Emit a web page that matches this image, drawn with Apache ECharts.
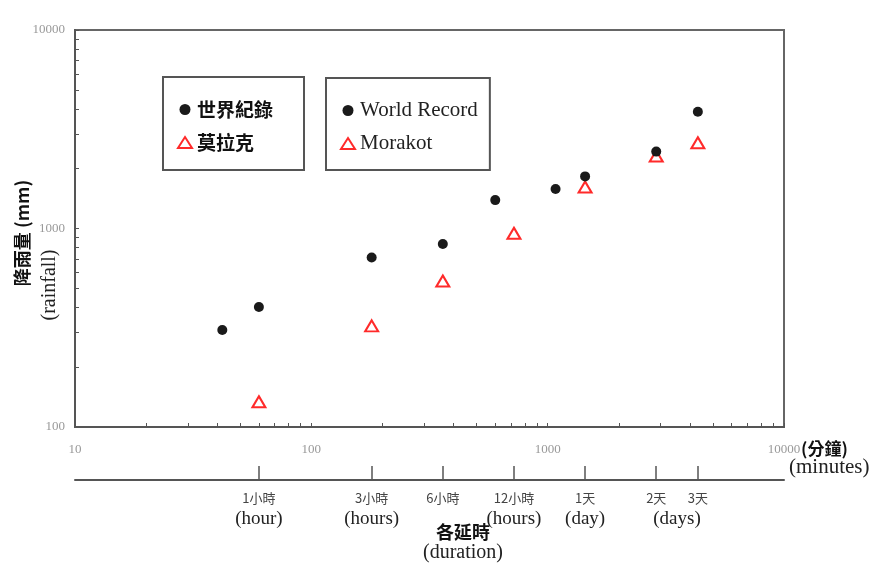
<!DOCTYPE html>
<html><head><meta charset="utf-8">
<script src="https://cdn.jsdelivr.net/npm/echarts@6/dist/echarts.min.js"></script>
<style>html,body{margin:0;padding:0;background:#fff}#c{width:878px;height:565px}</style>
</head><body><div id="c"></div>
<script>
// ---- data ----
const recordMinutes = [42, 60, 180, 360, 600, 1080, 1440, 2880, 4320];
const recordRainfall = [308, 402, 715, 835, 1390, 1580, 1830, 2440, 3870];
const morakotMinutes = [60, 180, 360, 720, 1440, 2880, 4320];
const morakotRainfall = [134, 323, 544, 946, 1618, 2318, 2705];
const xTickLabels = ['10', '100', '1000', '10000'];
const yTickLabels = ['100', '1000', '10000'];
const durationMinutes = [60, 180, 360, 720, 1440, 2880, 4320];
const durationZh = ['1小時', '3小時', '6小時', '12小時', '1天', '2天', '3天'];
const durationEn = ['(hour)', '(hours)', '', '(hours)', '(day)', '', ''];
const legendZh = ['世界紀錄', '莫拉克'];
const legendEn = ['World Record', 'Morakot'];

const mult = [1,2,3,4,5,6,7,8,9];
const xTicks = [], yTicks = [];
[10,100,1000].forEach(d => mult.forEach(m => xTicks.push(d*m))); xTicks.push(10000);
[100,1000].forEach(d => mult.forEach(m => yTicks.push(d*m))); yTicks.push(10000);

const durTickVals = durationMinutes.map(m => Math.log10(m));

const SERIF = 'Liberation Serif';
const CJK = 'Noto Sans CJK TC';
const AX = '#555';

const chart = echarts.init(document.getElementById('c'), null, {renderer: 'canvas'});
const dotStyle = {color: '#1a1a1a', opacity: 1};
const triStyle = {color: '#fff', borderColor: '#ff2a2a', borderWidth: 2, opacity: 1};

chart.setOption({
  animation: false,
  backgroundColor: '#fff',
  grid: [
    {left: 75, right: 94, top: 30, bottom: 138, show: true, borderColor: '#666', borderWidth: 2, backgroundColor: 'transparent'},
    {left: 75, right: 94, top: 466, height: 14}
  ],
  xAxis: [
    {type: 'log', logBase: 10, min: 10, max: 10000, gridIndex: 0,
     axisLine: {lineStyle: {color: AX, width: 2}},
     axisTick: {inside: true, length: 4, customValues: xTicks, lineStyle: {color: AX}},
     axisLabel: {margin: 16, color: '#999', fontFamily: SERIF, fontSize: 13,
       formatter: v => { const i = xTickLabels.indexOf(String(Math.round(v))); return i >= 0 ? xTickLabels[i] : ''; }},
     splitLine: {show: false}},
    {type: 'value', min: 1, max: 4, gridIndex: 1, position: 'bottom',
     axisLine: {lineStyle: {color: AX, width: 2}},
     axisTick: {inside: true, length: 14, customValues: durTickVals, lineStyle: {color: AX, width: 1.5}},
     axisLabel: {margin: 8, customValues: durTickVals,
       formatter: v => {
         const i = durTickVals.findIndex(t => Math.abs(t - v) < 1e-6);
         if (i < 0) return '';
         return durationEn[i] ? '{a|' + durationZh[i] + '}\n{b|' + durationEn[i] + '}' : '{a|' + durationZh[i] + '}';
       },
       rich: {a: {fontFamily: CJK, fontSize: 13, color: '#444', lineHeight: 20},
              b: {fontFamily: SERIF, fontSize: 19, color: '#222', lineHeight: 23}}},
     splitLine: {show: false}}
  ],
  yAxis: [
    {type: 'log', logBase: 10, min: 100, max: 10000, gridIndex: 0,
     axisLine: {lineStyle: {color: AX, width: 2}},
     axisTick: {inside: true, length: 4, customValues: yTicks, lineStyle: {color: AX}},
     axisLabel: {margin: 10, color: '#999', fontFamily: SERIF, fontSize: 13,
       formatter: v => { const i = yTickLabels.indexOf(String(Math.round(v))); return i >= 0 ? yTickLabels[i] : ''; }},
     splitLine: {show: false}},
    {type: 'value', gridIndex: 1, show: false}
  ],
  legend: [
    {data: legendZh, orient: 'vertical', left: 163, top: 77, padding: [23, 31, 18, 14],
     itemGap: 14, itemWidth: 14, itemHeight: 11, borderColor: '#555', borderWidth: 2, selectedMode: false,
     textStyle: {fontFamily: CJK, fontWeight: 'bold', fontSize: 19, color: '#111'}},
    {data: legendEn, orient: 'vertical', left: 326, top: 78, padding: [22, 12, 16, 14],
     itemGap: 12, itemWidth: 14, itemHeight: 11, borderColor: '#555', borderWidth: 2, selectedMode: false,
     textStyle: {fontFamily: SERIF, fontSize: 21, color: '#222'}}
  ],
  series: [
    {name: legendEn[1], type: 'scatter', xAxisIndex: 0, yAxisIndex: 0, symbol: 'triangle', symbolSize: [13, 11],
     itemStyle: triStyle, data: morakotMinutes.map((m, i) => [m, morakotRainfall[i]])},
    {name: legendEn[0], type: 'scatter', xAxisIndex: 0, yAxisIndex: 0, symbol: 'circle', symbolSize: 10,
     itemStyle: dotStyle, data: recordMinutes.map((m, i) => [m, recordRainfall[i]])},
    {name: legendZh[1], type: 'scatter', symbol: 'triangle', itemStyle: triStyle, data: []},
    {name: legendZh[0], type: 'scatter', symbol: 'circle', itemStyle: dotStyle, data: []}
  ],
  graphic: [
    {type: 'text', x: 22, y: 233, rotation: Math.PI / 2,
     style: {text: '降雨量 (mm)', fontFamily: CJK, fontWeight: 'bold', fontSize: 18, fill: '#111', textAlign: 'center', textVerticalAlign: 'middle'}},
    {type: 'text', x: 50, y: 285, rotation: Math.PI / 2,
     style: {text: '(rainfall)', fontFamily: SERIF, fontSize: 20, fill: '#222', textAlign: 'center', textVerticalAlign: 'middle'}},
    {type: 'text', x: 801, y: 449,
     style: {text: '(分鐘)', fontFamily: CJK, fontWeight: 'bold', fontSize: 17, fill: '#111', textAlign: 'left', textVerticalAlign: 'middle'}},
    {type: 'text', x: 789, y: 467,
     style: {text: '(minutes)', fontFamily: SERIF, fontSize: 21, fill: '#222', textAlign: 'left', textVerticalAlign: 'middle'}},
    {type: 'text', x: 677, y: 519,
     style: {text: '(days)', fontFamily: SERIF, fontSize: 19, fill: '#222', textAlign: 'center', textVerticalAlign: 'middle'}},
    {type: 'text', x: 463, y: 532,
     style: {text: '各延時', fontFamily: CJK, fontWeight: 'bold', fontSize: 18, fill: '#111', textAlign: 'center', textVerticalAlign: 'middle'}},
    {type: 'text', x: 463, y: 553,
     style: {text: '(duration)', fontFamily: SERIF, fontSize: 20, fill: '#222', textAlign: 'center', textVerticalAlign: 'middle'}}
  ]
});
</script>
</body></html>
